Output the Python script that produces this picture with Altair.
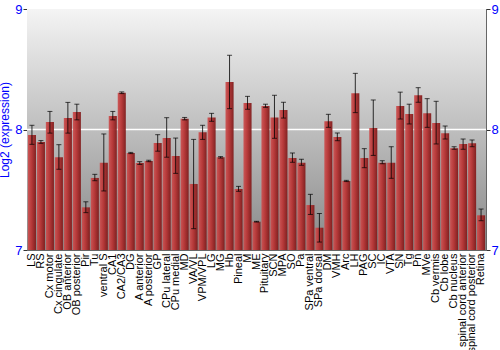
import altair as alt
import pandas as pd

regions = ["LS", "RS", "Cx motor", "Cx cingulate", "OB anterior", "OB posterior", "Pir", "Tu",
           "ventral S", "CA1", "CA2/CA3", "DG", "A anterior", "A posterior", "GP", "CPu lateral",
           "CPu medial", "MD", "VA/VL", "VPM/VPL", "LG", "MG", "Hb", "Pineal", "M", "ME",
           "Pituitary", "SCN", "MPA", "SO", "Pa", "SPa ventral", "SPa dorsal", "DM", "VMH", "Arc",
           "LH", "PAG", "SC", "IC", "VTA", "SN", "Tg", "Pn", "MVe", "Cb vermis", "Cb lobe",
           "Cb nucleus", "spinal cord anterior", "spinal cord posterior", "Retina"]
values = [7.954, 7.896, 8.062, 7.77, 8.095, 8.145, 7.354, 7.598, 7.725, 8.112, 8.305, 7.805,
          7.722, 7.739, 7.888, 7.929, 7.78, 8.09, 7.548, 7.977, 8.10, 7.769, 8.394, 7.506,
          8.22, 7.235, 8.195, 8.10, 8.162, 7.763, 7.725, 7.373, 7.185, 8.068, 7.938, 7.573,
          8.30, 7.763, 8.012, 7.725, 7.725, 8.195, 8.129, 8.284, 8.134, 8.054, 7.968, 7.844,
          7.88, 7.885, 7.288]
err_low = [7.877, 7.885, 7.97, 7.67, 7.97, 8.08, 7.31, 7.575, 7.49, 8.08, 8.298, 7.80,
           7.71, 7.733, 7.82, 7.77, 7.636, 8.08, 7.177, 7.918, 8.068, 7.763, 8.173, 7.487,
           8.168, 7.232, 8.184, 7.927, 8.095, 7.728, 7.703, 7.295, 7.066, 8.018, 7.907, 7.568,
           8.14, 7.683, 7.785, 7.716, 7.595, 8.087, 8.046, 8.226, 8.018, 7.88, 7.921, 7.836,
           7.836, 7.857, 7.243]
err_high = [8.035, 7.908, 8.15, 7.874, 8.225, 8.21, 7.40, 7.628, 7.963, 8.15, 8.312, 7.81,
            7.733, 7.745, 7.957, 8.098, 7.929, 8.10, 7.918, 8.035, 8.134, 7.775, 8.616, 7.528,
            8.275, 7.238, 8.21, 8.284, 8.226, 7.805, 7.753, 7.462, 7.303, 8.126, 7.971, 7.578,
            8.466, 7.841, 8.245, 7.741, 7.857, 8.31, 8.21, 8.347, 8.256, 8.234, 8.029, 7.857,
            7.921, 7.913, 7.34]
y_ticks = [7, 8, 9]
y_min, y_max = 7, 9
grid_value = 8

df = pd.DataFrame({"region": regions, "value": values, "lo": err_low, "hi": err_high})
one = pd.DataFrame({"k": [0]})

W, H = 459, 241
BLUE = "#0000ff"
FONT = "Liberation Sans"

yscale = alt.Scale(domain=[y_min, y_max], zero=False, nice=False)
xenc = alt.X("region:N", sort=regions, title=None,
             scale=alt.Scale(paddingInner=0.1, paddingOuter=0.1),
             axis=alt.Axis(labelAngle=-90, labelFontSize=11, labelColor="#000000", labelFont=FONT,
                           ticks=False, domain=False, labelPadding=3, labelOverlap=False))

bg = alt.Chart(one).mark_rect(
    color=alt.LinearGradient(gradient="linear", x1=0, x2=0, y1=0, y2=1,
                             stops=[alt.GradientStop(offset=0, color="#f4f4f4"),
                                    alt.GradientStop(offset=1, color="#888888")])
).encode(x=alt.value(0), x2=alt.value(W), y=alt.value(0), y2=alt.value(H))

grid = alt.Chart(one).mark_rule(color="#ffffff", strokeWidth=1.5).encode(
    y=alt.Y("g:Q", scale=yscale,
            axis=alt.Axis(values=y_ticks, orient="left", labelColor=BLUE, labelFontSize=13,
                          labelFont=FONT, tickColor="#333333", tickSize=4, grid=False,
                          domainColor="#666666", title="Log2 (expression)", titleColor=BLUE,
                          titleFont=FONT, titleFontSize=12, titleFontWeight="normal",
                          titlePadding=3, labelPadding=1, labelOverlap=False,
                          labelExpr="'' + datum.value")),
    x=alt.value(0), x2=alt.value(W)
).transform_calculate(g=str(grid_value))

bars = alt.Chart(df).mark_bar(
    color=alt.LinearGradient(gradient="linear", x1=0, x2=1, y1=0, y2=0,
                             stops=[alt.GradientStop(offset=0, color="#cc5252"),
                                    alt.GradientStop(offset=0.45, color="#b83434"),
                                    alt.GradientStop(offset=1, color="#7e1a1a")]),
    opacity=0.95
).encode(
    x=xenc,
    y=alt.Y("value:Q", scale=yscale,
            axis=alt.Axis(values=y_ticks, orient="right", labelColor=BLUE, labelFontSize=13,
                          labelFont=FONT, tickColor="#333333", tickSize=4, grid=False,
                          domainColor="#666666", title=None, labelPadding=1, labelOverlap=False,
                          labelExpr="'' + datum.value")),
    y2=alt.Y2(datum=y_min)
)

err = alt.Chart(df).mark_rule(color="#000000", strokeWidth=1, opacity=0.8).encode(
    x=xenc, y=alt.Y("lo:Q", scale=yscale, axis=None), y2="hi:Q")
cap_lo = alt.Chart(df).mark_tick(color="#000000", size=5, thickness=1).encode(
    x=xenc, y=alt.Y("lo:Q", scale=yscale, axis=None))
cap_hi = alt.Chart(df).mark_tick(color="#000000", size=5, thickness=1).encode(
    x=xenc, y=alt.Y("hi:Q", scale=yscale, axis=None))

chart = alt.layer(bg, grid, bars, err, cap_lo, cap_hi).resolve_axis(y="independent").properties(
    width=W, height=H,
    autosize=alt.AutoSizeParams(type="none"),
    padding={"left": 27, "top": 9, "right": 14, "bottom": 100},
    background="#ffffff"
).configure_view(stroke="#666666", strokeWidth=1)

chart.save("out.html", embed_options={"renderer": "svg", "actions": False})
